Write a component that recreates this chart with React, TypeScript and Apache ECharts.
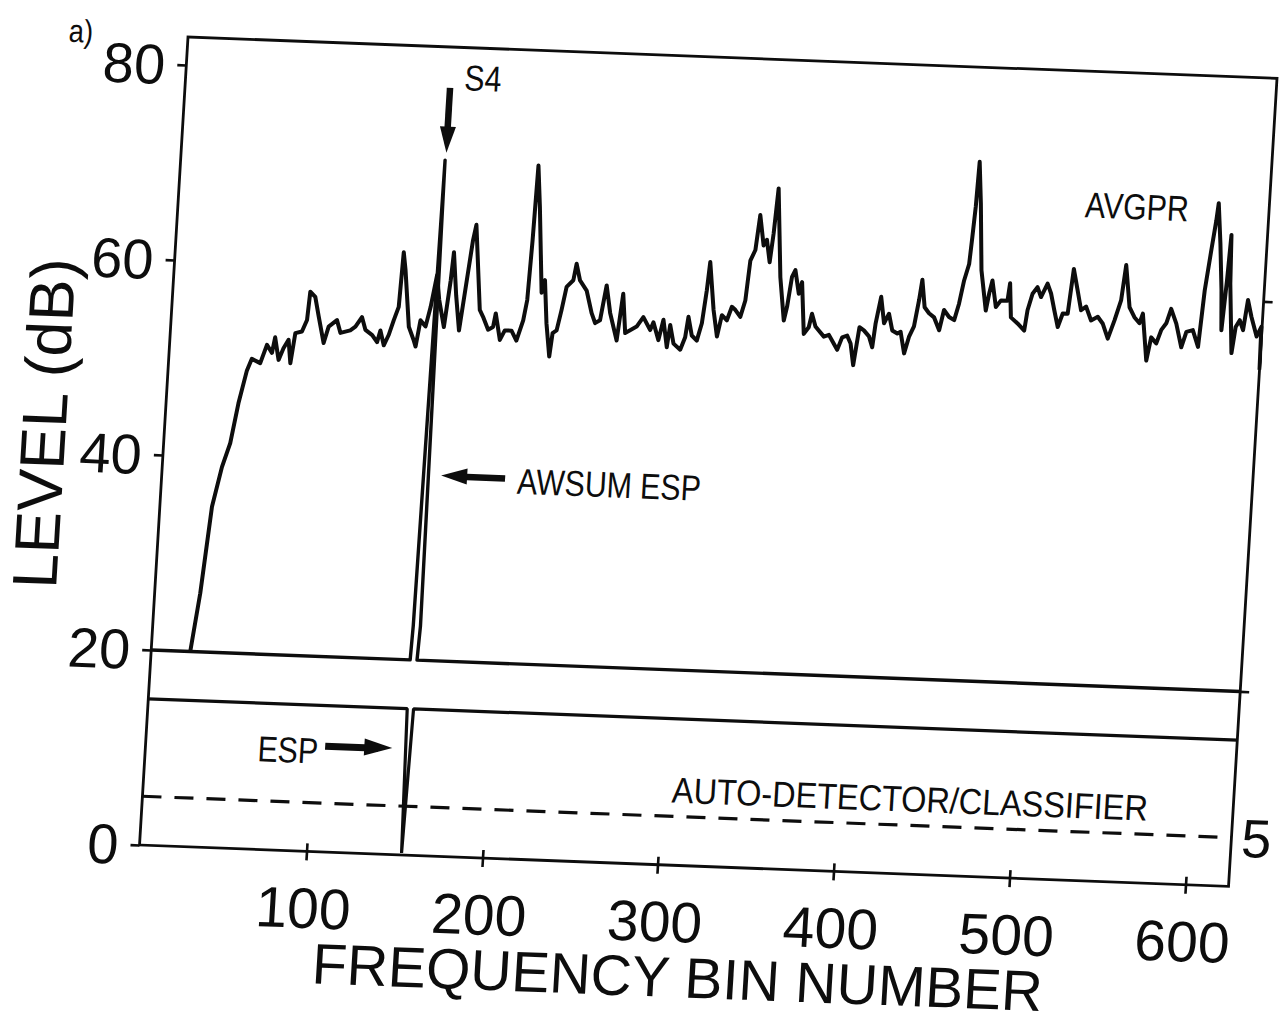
import React, { useEffect, useRef } from "react";
import * as echarts from "echarts";

// ---- data ----
const xTicks = [100, 200, 300, 400, 500, 600];
const yTicks = [0, 20, 40, 60, 80];
const rightTicks = [20, 60];
const rightLabels = [5];

const avgprBins = [
  27.2, 30.9, 34.6, 38.9, 42.8, 46.1, 49.8, 52.2, 57.1, 60.3, 63.4, 64.7, 67.4, 69.8, 72.4, 74.2, 76.0, 79.7, 82.2, 83.1,
  86.1, 88.7, 92.4, 94.7, 99.2, 101.6, 107.1, 109.9, 113.3, 115.7, 119.7, 122.7, 124.2, 126.6, 129.1, 131.4, 133.8, 134.8, 136.4, 140.2,
  143.5, 144.7, 146.6, 149.7, 151.9, 154.5, 156.5, 160.1, 162.4, 163.3, 166.0, 168.8, 173.7, 175.1, 179.9, 182.0, 185.3, 188.0, 189.1, 192.3,
  194.8, 198.6, 201.7, 204.9, 206.5, 207.5, 208.3, 210.5, 214.4, 215.9, 218.2, 220.9, 222.0, 224.2, 226.3, 228.4, 232.0, 233.3, 235.8, 239.9,
  243.5, 245.8, 248.5, 251.1, 254.0, 256.3, 258.6, 260.8, 263.2, 265.9, 269.5, 273.0, 277.3, 278.9, 282.3, 284.5, 287.3, 288.5, 291.0, 295.0,
  297.4, 298.6, 301.1, 304.1, 306.4, 308.1, 309.1, 312.6, 315.4, 317.5, 320.5, 322.9, 324.9, 328.0, 330.3, 331.8, 334.3, 335.9, 338.8, 340.5,
  342.8, 344.1, 345.4, 349.4, 352.8, 354.2, 356.0, 357.7, 360.4, 361.9, 364.6, 367.2, 368.6, 371.0, 373.0, 376.1, 378.9, 382.0, 384.1, 386.5,
  389.3, 391.5, 393.7, 396.0, 398.6, 401.7, 403.9, 405.0, 407.3, 409.8, 412.3, 414.7, 417.7, 419.5, 422.2, 424.4, 426.9, 428.9, 430.1, 432.3,
  435.0, 438.0, 441.3, 443.4, 446.5, 449.5, 451.7, 453.8, 456.1, 457.0, 457.9, 458.6, 460.7, 463.3, 467.1, 468.5, 469.9, 472.7, 475.4, 479.1,
  480.0, 481.6, 485.6, 489.6, 490.8, 493.1, 495.7, 498.0, 501.3, 503.6, 506.0, 508.5, 510.9, 513.7, 515.7, 518.6, 521.2, 523.9, 527.2, 530.9,
  534.0, 537.3, 540.5, 543.6, 545.3, 548.6, 551.7, 554.8, 556.4, 559.9, 561.9, 565.0, 567.4, 570.0, 572.3, 575.7, 579.3, 581.7, 585.3, 588.8,
  590.7, 593.1, 594.9, 595.7, 598.0, 600.2, 601.5, 603.0, 604.0, 605.0, 608.0, 609.5, 611.6, 613.8, 615.6, 618.1, 621.7, 624.1, 624.5,
];
const avgprLevels = [
  20.0, 26.0, 34.9, 39.0, 41.5, 45.6, 49.0, 50.2, 49.8, 51.7, 50.9, 52.5, 50.2, 51.4, 52.3, 49.9, 53.0, 53.2, 54.4, 57.3,
  56.8, 54.8, 52.1, 53.8, 54.5, 53.2, 53.5, 53.9, 54.9, 53.6, 53.1, 52.4, 53.6, 52.1, 53.2, 54.7, 56.1, 61.7, 59.9, 54.1,
  52.7, 52.1, 54.8, 54.2, 56.2, 59.5, 57.0, 54.2, 59.0, 61.9, 57.5, 53.9, 63.2, 64.8, 56.1, 55.4, 54.1, 54.4, 55.8, 53.1,
  54.1, 54.1, 53.1, 55.2, 57.3, 63.4, 71.1, 66.9, 58.1, 59.4, 55.0, 51.6, 54.0, 54.3, 56.4, 58.8, 59.5, 61.2, 59.5, 58.5,
  56.2, 55.2, 55.5, 59.1, 56.3, 54.9, 53.5, 58.3, 54.3, 54.6, 55.0, 56.0, 54.7, 55.5, 53.7, 55.8, 53.0, 55.3, 53.4, 52.8,
  54.1, 56.2, 54.3, 53.8, 55.6, 59.0, 61.9, 57.0, 54.3, 56.5, 56.0, 57.4, 57.1, 56.4, 58.1, 62.2, 63.3, 66.9, 63.8, 64.4,
  62.1, 65.1, 69.7, 60.6, 56.2, 57.6, 60.7, 61.4, 59.0, 60.2, 54.9, 55.6, 57.0, 55.7, 55.3, 54.7, 54.9, 54.0, 53.4, 54.7,
  54.9, 54.1, 51.9, 55.8, 55.5, 54.9, 53.8, 56.2, 59.0, 56.3, 57.3, 55.6, 55.3, 55.5, 53.3, 55.0, 56.1, 58.8, 60.9, 58.1,
  57.5, 57.1, 55.8, 57.9, 57.2, 56.9, 58.6, 61.0, 62.7, 65.5, 68.6, 73.2, 68.9, 62.1, 58.0, 59.8, 61.1, 58.4, 59.1, 59.1,
  60.9, 57.4, 56.8, 56.1, 58.2, 59.9, 60.6, 59.6, 61.0, 60.0, 58.3, 56.6, 58.0, 58.0, 62.6, 60.4, 58.4, 58.8, 57.4, 57.8,
  57.1, 55.6, 57.5, 59.6, 63.2, 58.9, 57.9, 57.3, 58.3, 53.5, 55.9, 55.3, 56.7, 57.4, 58.9, 57.4, 55.0, 56.6, 56.8, 55.1,
  60.9, 65.1, 68.1, 69.9, 65.8, 61.0, 56.9, 62.0, 66.7, 61.7, 54.6, 57.3, 58.0, 57.0, 60.1, 58.4, 56.4, 57.4, 53.0,
];

const awsumBins = [5, 152.3, 152.9, 155.1, 157.0, 156.2, 624.5];
const awsumLevels = [20, 20, 23.5, 71.3, 23.5, 20, 20];

const espBins = [5, 152.3, 154.0, 154.4, 155.9, 624.5];
const espLevels = [15, 15, 0.2, 0.2, 15, 15];

const detectorBins = [5, 624.5];
const detectorLevels = [5, 5];

// annotation anchors [bin, dB]
const s4Arrow = [[155.6, 78.7], [155.6, 73.4]];
const awsumArrow = [[200, 39.0], [171, 39.0]];
const espArrow = [[107, 10.9], [137.2, 10.9]];

const annotations = [
  { text: "S4", at: [173.9, 79.8], align: "center", scaleX: 0.84 },
  { text: "AVGPR", at: [520, 69.2], align: "left", scaleX: 0.84 },
  { text: "AWSUM ESP", at: [207, 38.7], align: "left", scaleX: 0.84 },
  { text: "ESP", at: [103.2, 10.3], align: "right", scaleX: 0.84 },
  { text: "AUTO-DETECTOR/CLASSIFIER", at: [305.4, 7.7], align: "left", scaleX: 0.9 },
];

const FONT = "'Liberation Sans', Arial, Helvetica, sans-serif";
const INK = "#0d0d0d";

const pairs = (xs: number[], ys: number[]) => xs.map((x, i) => [x, ys[i]]);

export default function App() {
  const ref = useRef<HTMLDivElement | null>(null);

  useEffect(() => {
    if (!ref.current) return;
    const chart = echarts.init(ref.current, undefined, { renderer: "svg" });
    const tickStyle = { color: INK, width: 2.6 };
    const option: any = {
      animation: false,
      backgroundColor: "#fff",
      grid: {
        left: 188,
        top: 37,
        width: 1089,
        height: 808,
        show: true,
        borderColor: INK,
        borderWidth: 2.8,
        backgroundColor: "transparent",
      },
      xAxis: [
        {
          type: "value",
          min: 5,
          max: 624.5,
          position: "bottom",
          axisLine: { show: false },
          splitLine: { show: false },
          axisTick: { show: true, customValues: xTicks, length: 9, inside: false, lineStyle: tickStyle },
          axisLabel: { show: true, customValues: xTicks, margin: 28, fontSize: 57, fontFamily: FONT, color: INK },
          name: "FREQUENCY BIN NUMBER",
          nameLocation: "middle",
          nameGap: 83,
          nameMoveOverlap: false,
          nameTextStyle: { fontSize: 57, fontFamily: FONT, color: INK, lineHeight: 57 },
        },
        {
          type: "value",
          min: 5,
          max: 624.5,
          position: "top",
          axisLine: { show: false },
          splitLine: { show: false },
          axisTick: { show: true, customValues: xTicks, length: 8, inside: false, lineStyle: tickStyle },
          axisLabel: { show: false },
        },
      ],
      yAxis: [
        {
          type: "value",
          min: 0,
          max: 82.9,
          position: "left",
          axisLine: { show: false },
          splitLine: { show: false },
          axisTick: { show: true, customValues: yTicks, length: 9, inside: false, lineStyle: tickStyle },
          axisLabel: { show: true, customValues: yTicks, margin: 21, fontSize: 56, fontFamily: FONT, color: INK },
          name: "LEVEL (dB)",
          nameLocation: "middle",
          nameGap: 89,
          nameMoveOverlap: false,
          nameTextStyle: { fontSize: 63, fontFamily: FONT, color: INK, lineHeight: 63, padding: [0, 0, 0, 26] },
        },
        {
          type: "value",
          min: 0,
          max: 82.9,
          position: "right",
          axisLine: { show: false },
          splitLine: { show: false },
          axisTick: { show: true, customValues: rightTicks, length: 9, inside: false, lineStyle: tickStyle },
          axisLabel: { show: true, customValues: rightLabels, margin: 10, fontSize: 54, fontFamily: FONT, color: INK },
        },
      ],
      series: [
        {
          name: "AUTO-DETECTOR/CLASSIFIER",
          type: "line",
          data: pairs(detectorBins, detectorLevels),
          symbol: "none",
          lineStyle: { color: INK, width: 3.2, type: [19, 13] },
        },
        {
          name: "ESP",
          type: "line",
          data: pairs(espBins, espLevels),
          symbol: "none",
          lineStyle: { color: INK, width: 3.2 },
          markLine: {
            silent: true,
            symbol: ["none", "triangle"],
            symbolSize: [17, 28],
            label: { show: false },
            lineStyle: { color: INK, width: 7, type: "solid" },
            data: [[{ coord: espArrow[0] }, { coord: espArrow[1] }]],
          },
        },
        {
          name: "AVGPR",
          type: "line",
          data: pairs(avgprBins, avgprLevels),
          symbol: "none",
          lineStyle: { color: INK, width: 4, join: "round" },
        },
        {
          name: "AWSUM ESP",
          type: "line",
          data: pairs(awsumBins, awsumLevels),
          symbol: "none",
          lineStyle: { color: INK, width: 3.4, join: "round" },
          markLine: {
            silent: true,
            symbol: ["none", "triangle"],
            symbolSize: [16, 26],
            label: { show: false },
            lineStyle: { color: INK, width: 6.5, type: "solid" },
            data: [
              [{ coord: s4Arrow[0] }, { coord: s4Arrow[1] }],
              [{ coord: awsumArrow[0] }, { coord: awsumArrow[1] }],
            ],
          },
        },
      ],
    };
    chart.setOption(option);

    const elements: any[] = annotations.map((l) => {
      const p = chart.convertToPixel({ xAxisIndex: 0, yAxisIndex: 0 }, l.at) as number[];
      return {
        type: "text",
        x: p[0],
        y: p[1],
        scaleX: l.scaleX,
        silent: true,
        style: {
          text: l.text,
          font: `36px ${FONT}`,
          fill: INK,
          align: l.align,
          verticalAlign: "middle",
          textAlign: l.align,
          textVerticalAlign: "middle",
        },
      };
    });
    elements.push({
      type: "text",
      x: 81,
      y: 35,
      scaleX: 0.85,
      silent: true,
      style: {
        text: "a)",
        font: `32px ${FONT}`,
        fill: INK,
        align: "center",
        verticalAlign: "middle",
        textAlign: "center",
        textVerticalAlign: "middle",
      },
    });
    chart.setOption({ graphic: { elements } });

    return () => chart.dispose();
  }, []);

  return (
    <div
      style={{
        position: "fixed",
        left: 0,
        top: 0,
        width: 1281,
        height: 1015,
        overflow: "hidden",
        background: "#fff",
      }}
    >
      <div
        ref={ref}
        style={{
          position: "absolute",
          left: 0,
          top: 0,
          width: 1400,
          height: 1100,
          transformOrigin: "188px 37px",
          transform: "matrix(1, 0.038, -0.06, 1, 0, 0)",
        }}
      />
    </div>
  );
}
